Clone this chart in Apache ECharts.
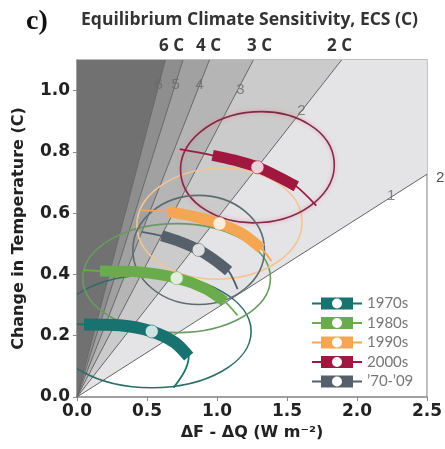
<!DOCTYPE html>
<html>
<head>
<meta charset="utf-8">
<script src="https://cdn.jsdelivr.net/npm/echarts@6/dist/echarts.min.js"></script>
<style>
  html, body { margin: 0; padding: 0; background: #fff; }
  #chart { width: 445px; height: 449px; }
</style>
</head>
<body>
<div id="chart"></div>
<script>
// ECS lines through the origin, end points
const ecsNames = ['1', '2', '3', '4', '5', '6'];
const ecsEndF = [2.5, 1.89, 1.26, 0.946, 0.757, 0.631];
const ecsEndT = [0.727, 1.1, 1.1, 1.1, 1.1, 1.1];
const ecsLabelF = [2.244, 1.603, 1.168, 0.876, 0.705, 0.584];
const ecsLabelT = [0.655, 0.934, 1.003, 1.02, 1.02, 1.02];
const shadeColors = ['#e4e4e6', '#cbcbcb', '#b5b5b5', '#a1a1a1', '#8e8e8e', '#717171'];

// decades
const decades = ['1970s', '1980s', '1990s', '2000s', '\u201970-\u201909'];
const bestF = [0.534, 0.712, 1.018, 1.289, 0.869];
const bestT = [0.214, 0.388, 0.566, 0.750, 0.480];

// thick 5-95% bands
const bandF = [
  [0.05, 0.306, 0.534, 0.698, 0.798],
  [0.164, 0.449, 0.712, 0.912, 1.054],
  [0.648, 0.840, 1.018, 1.182, 1.318],
  [0.969, 1.125, 1.289, 1.446, 1.567],
  [0.605, 0.734, 0.869, 0.983, 1.083],
];
const bandT = [
  [0.237, 0.234, 0.214, 0.178, 0.132],
  [0.411, 0.408, 0.388, 0.355, 0.312],
  [0.605, 0.589, 0.566, 0.533, 0.484],
  [0.789, 0.773, 0.750, 0.717, 0.6875],
  [0.526, 0.507, 0.480, 0.447, 0.411],
];
// thin whiskers (full extent)
const whiskerF = [
  [0.0, 0.05, 0.306, 0.534, 0.698, 0.798, 0.77, 0.69],
  [0.043, 0.164, 0.449, 0.712, 0.912, 1.054, 1.147],
  [0.449, 0.648, 0.840, 1.018, 1.182, 1.318, 1.389],
  [0.734, 0.969, 1.125, 1.289, 1.446, 1.567, 1.709],
  [0.463, 0.605, 0.734, 0.869, 0.983, 1.083, 1.147],
];
const whiskerT = [
  [0.238, 0.237, 0.234, 0.214, 0.178, 0.132, 0.085, 0.03],
  [0.414, 0.411, 0.408, 0.388, 0.355, 0.312, 0.266],
  [0.609, 0.605, 0.589, 0.566, 0.533, 0.484, 0.444],
  [0.809, 0.789, 0.773, 0.750, 0.717, 0.6875, 0.625],
  [0.539, 0.526, 0.507, 0.480, 0.447, 0.411, 0.352],
];
// uncertainty ellipses (half widths)
const ellipseRF = [0.71, 0.67, 0.59, 0.55, 0.47];
const ellipseRT = [0.184, 0.178, 0.181, 0.181, 0.178];
const ellipseTilt = [0, 0, 2, 4, 0];

const bandColors = ['#177270', '#6aac4c', '#f5a652', '#a01840', '#56606b'];
const ellipseColors = ['#2e6c68', '#6a9a62', '#f2c596', '#7e2a4a', '#5e6c70'];

const xTicks = [0, 0.5, 1.0, 1.5, 2.0, 2.5];
const yTicks = [0, 0.2, 0.4, 0.6, 0.8, 1.0];

const FMAX = 2.5, TMAX = 1.1;

const chart = echarts.init(document.getElementById('chart'));

function shadePoints(i) {
  const pts = [[0, 0], [ecsEndF[i], ecsEndT[i]]];
  if (i + 1 < ecsEndF.length) {
    if (ecsEndT[i] < TMAX && ecsEndT[i + 1] >= TMAX) pts.push([FMAX, TMAX]);
    pts.push([ecsEndF[i + 1], ecsEndT[i + 1]]);
  } else {
    pts.push([0, TMAX]);
  }
  return pts;
}

const series = [];

series.push({
  type: 'custom',
  z: 1,
  silent: true,
  data: shadeColors.map((c, i) => [i]),
  renderItem: function (params, api) {
    const i = api.value(0);
    return {
      type: 'polygon',
      shape: { points: shadePoints(i).map(p => api.coord(p)) },
      style: { fill: shadeColors[i], stroke: null },
    };
  },
});

series.push({
  type: 'custom',
  z: 2,
  silent: true,
  data: ecsNames.map((n, i) => [i]),
  renderItem: function (params, api) {
    const i = api.value(0);
    const a = api.coord([0, 0]);
    const b = api.coord([ecsEndF[i], ecsEndT[i]]);
    return {
      type: 'line',
      shape: { x1: a[0], y1: a[1], x2: b[0], y2: b[1] },
      style: { stroke: '#666', lineWidth: 1 },
    };
  },
});

series.push({
  type: 'scatter',
  z: 3,
  silent: true,
  symbolSize: 1,
  itemStyle: { color: 'rgba(0,0,0,0)' },
  data: ecsNames.map((n, i) => ({ value: [ecsLabelF[i], ecsLabelT[i]], name: n })),
  label: {
    show: true,
    position: 'inside',
    formatter: p => p.name,
    color: '#6a6a6a',
    fontSize: 15,
    fontFamily: 'Liberation Sans',
  },
});

series.push({
  type: 'custom',
  z: 4,
  silent: true,
  clip: true,
  data: decades.map((d, i) => [i]),
  renderItem: function (params, api) {
    const i = api.value(0);
    const c = api.coord([bestF[i], bestT[i]]);
    const s = api.size([ellipseRF[i], ellipseRT[i]]);
    return {
      type: 'ellipse',
      x: c[0],
      y: c[1],
      rotation: ellipseTilt[i] * Math.PI / 180,
      shape: { cx: 0, cy: 0, rx: s[0], ry: s[1] },
      style: {
        fill: null,
        stroke: ellipseColors[i],
        lineWidth: 1.6,
        shadowBlur: i === 3 ? 4 : 0,
        shadowColor: 'rgba(240,130,150,0.8)',
      },
    };
  },
});

decades.forEach((d, i) => {
  series.push({
    type: 'line',
    z: 5,
    silent: true,
    symbol: 'none',
    smooth: 0.3,
    data: whiskerF[i].map((f, k) => [f, whiskerT[i][k]]),
    lineStyle: { color: bandColors[i], width: 1.8 },
  });
});

decades.forEach((d, i) => {
  series.push({
    name: d,
    type: 'line',
    z: 6,
    silent: true,
    symbol: 'none',
    smooth: 0.3,
    color: bandColors[i],
    data: bandF[i].map((f, k) => [f, bandT[i][k]]),
    lineStyle: { color: bandColors[i], width: i === 0 ? 12 : 11, cap: 'butt' },
  });
});

series.push({
  type: 'scatter',
  z: 7,
  silent: true,
  symbolSize: 13,
  data: decades.map((d, i) => ({
    value: [bestF[i], bestT[i]],
    itemStyle: { color: '#fff', borderColor: bandColors[i], borderWidth: 0.8 },
  })),
});

const legendIcon = 'path://M0,5 L9,5 L9,7 L0,7 Z M41,5 L50,5 L50,7 L41,7 Z ' +
  'M9,0 L41,0 L41,12 L9,12 Z M30,6 A5,5 0 1,0 20,6 A5,5 0 1,0 30,6 Z';

const option = {
  animation: false,
  backgroundColor: '#fff',
  grid: {
    left: 77, right: 17, top: 60, bottom: 52,
    show: true, borderColor: '#aaa', borderWidth: 1.5,
  },
  xAxis: {
    type: 'value',
    min: 0, max: FMAX, interval: 0.5,
    name: '\u0394F - \u0394Q (W m\u207B\u00B2)',
    nameLocation: 'middle',
    nameGap: 25,
    nameTextStyle: { fontFamily: 'DejaVu Sans', fontWeight: 'bold', fontSize: 16, color: '#222' },
    splitLine: { show: false },
    axisLine: { lineStyle: { color: '#a0a0a0', width: 2 } },
    axisTick: { length: 4, lineStyle: { color: '#888' } },
    axisLabel: {
      customValues: xTicks,
      formatter: v => v.toFixed(1),
      margin: 6,
      fontFamily: 'DejaVu Sans', fontWeight: 'bold', fontSize: 17, color: '#222',
    },
  },
  yAxis: {
    type: 'value',
    min: 0, max: TMAX, interval: 0.2,
    name: 'Change in Temperature (C)',
    nameLocation: 'middle',
    nameGap: 50,
    nameTextStyle: { fontFamily: 'DejaVu Sans', fontWeight: 'bold', fontSize: 16, color: '#222' },
    splitLine: { show: false },
    axisLine: { lineStyle: { color: '#999', width: 1.5 } },
    axisTick: { length: 4, customValues: yTicks, lineStyle: { color: '#888' } },
    axisLabel: {
      customValues: yTicks,
      formatter: v => v.toFixed(1),
      margin: 7,
      fontFamily: 'DejaVu Sans', fontWeight: 'bold', fontSize: 17, color: '#222',
    },
  },
  legend: {
    data: decades,
    orient: 'vertical',
    left: 312,
    top: 296,
    padding: 0,
    itemWidth: 50,
    itemHeight: 12,
    itemGap: 4.5,
    icon: legendIcon,
    selectedMode: false,
    itemStyle: { borderWidth: 0 },
    textStyle: { fontFamily: 'Lato', fontSize: 15, color: '#777' },
  },
  graphic: [
    { type: 'text', left: 26, top: 8,
      style: { text: 'c)', font: 'bold 28px "Liberation Serif"', fill: '#111' } },
    { type: 'text', left: 81, top: 11,
      style: { text: 'Equilibrium Climate Sensitivity, ECS (C)', font: 'bold 17.5px "Open Sans"', fill: '#333' } },
    { type: 'text', left: 159, top: 38,
      style: { text: '6 C', font: 'bold 17px "Open Sans"', fill: '#333' } },
    { type: 'text', left: 196, top: 38,
      style: { text: '4 C', font: 'bold 17px "Open Sans"', fill: '#333' } },
    { type: 'text', left: 247, top: 38,
      style: { text: '3 C', font: 'bold 17px "Open Sans"', fill: '#333' } },
    { type: 'text', left: 327, top: 38,
      style: { text: '2 C', font: 'bold 17px "Open Sans"', fill: '#333' } },
    { type: 'text', left: 436, top: 170,
      style: { text: '2', font: '15px "Liberation Sans"', fill: '#555' } },
  ],
  series: series,
};

chart.setOption(option);
</script>
</body>
</html>
